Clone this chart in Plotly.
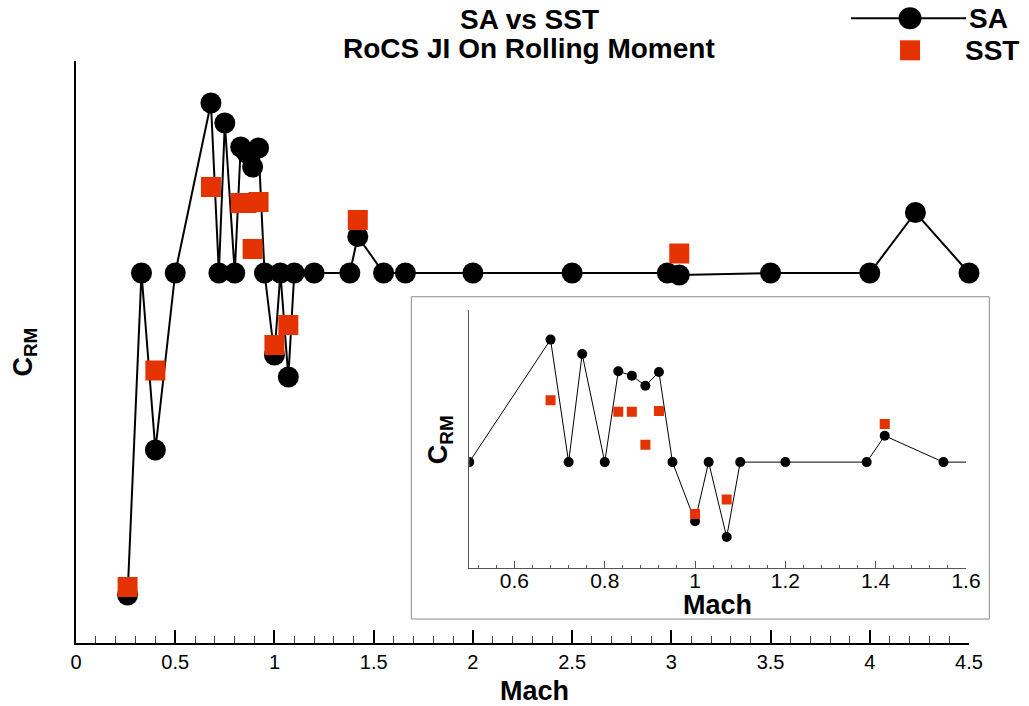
import plotly.graph_objects as go

# ---------------- data ----------------
sa_mach = [0.26, 0.33, 0.40, 0.50, 0.68, 0.72, 0.75, 0.80, 0.83, 0.86, 0.89, 0.92,
           0.95, 1.00, 1.03, 1.07, 1.10, 1.20, 1.38, 1.42, 1.55, 1.66, 2.00, 2.50,
           2.98, 3.04, 3.50, 4.00, 4.23, 4.50]
sa_crm = [-3.22, 0.00, -1.77, 0.00, 1.70, 0.00, 1.50, 0.00, 1.26, 1.20, 1.06, 1.25,
          0.00, -0.82, 0.00, -1.04, 0.00, 0.00, 0.00, 0.365, 0.00, 0.00, 0.00, 0.00,
          0.00, -0.02, 0.00, 0.00, 0.605, 0.00]

sst_mach = [0.26, 0.40, 0.68, 0.83, 0.86, 0.89, 0.92, 1.00, 1.07, 1.42, 3.04]
sst_crm = [-3.14, -0.975, 0.86, 0.70, 0.70, 0.24, 0.71, -0.72, -0.52, 0.53, 0.195]

main_xticks = [0, 0.5, 1, 1.5, 2, 2.5, 3, 3.5, 4, 4.5]
inset_xticks = [0.6, 0.8, 1.0, 1.2, 1.4, 1.6]
inset_xtext = ["0.6", "0.8", "1", "1.2", "1.4", "1.6"]

SA_COLOR = "black"
SST_COLOR = "#E43300"
FONT = "Liberation Sans, Arial, Helvetica, sans-serif"

# plot-area geometry helpers (pixels -> paper fractions)
L, R, T, B = 75.5, 969.0, 60.7, 643.3
W, H = R - L, B - T


def px(x):
    return (x - L) / W


def py(y):
    return (B - y) / H


fig = go.Figure()

# main traces
fig.add_trace(go.Scatter(x=sa_mach, y=sa_crm, mode="lines+markers", name="SA",
                         line=dict(color=SA_COLOR, width=2),
                         marker=dict(symbol="circle", size=21, color=SA_COLOR),
                         cliponaxis=False,
                         xaxis="x", yaxis="y", showlegend=False))
fig.add_trace(go.Scatter(x=sst_mach, y=sst_crm, mode="markers", name="SST",
                         marker=dict(symbol="square", size=20, color=SST_COLOR),
                         cliponaxis=False,
                         xaxis="x", yaxis="y", showlegend=False))

# inset traces
fig.add_trace(go.Scatter(x=sa_mach, y=sa_crm, mode="lines+markers", name="SA",
                         line=dict(color=SA_COLOR, width=1),
                         marker=dict(symbol="circle", size=10, color=SA_COLOR),
                         xaxis="x2", yaxis="y2", showlegend=False))
fig.add_trace(go.Scatter(x=sst_mach, y=sst_crm, mode="markers", name="SST",
                         marker=dict(symbol="square", size=10, color=SST_COLOR),
                         xaxis="x2", yaxis="y2", showlegend=False))

inset_x = [px(469), px(966)]
inset_y = [py(568.3), py(310)]

fig.update_layout(
    width=1029, height=706,
    margin=dict(l=L, r=1029 - R, t=T, b=706 - B),
    paper_bgcolor="white", plot_bgcolor="white",
    font=dict(family=FONT, color="black"),
    xaxis=dict(range=[0, 4.5], tickvals=main_xticks, ticks="inside", ticklen=13,
               tickwidth=1.5, tickcolor="black", showline=True, linecolor="black",
               linewidth=2, showgrid=False, zeroline=False,
               tickfont=dict(size=20, family=FONT),
               minor=dict(dtick=0.1, ticks="inside", ticklen=7, tickwidth=1,
                          tickcolor="#444", showgrid=False),
               domain=[0, 1]),
    yaxis=dict(range=[-3.70, 2.12], showline=True, linecolor="black", linewidth=2,
               showticklabels=False, ticks="", showgrid=False, zeroline=False,
               domain=[0, 1]),
    xaxis2=dict(range=[0.5, 1.6], tickvals=inset_xticks, ticktext=inset_xtext,
                ticks="inside", ticklen=7, tickwidth=1, tickcolor="#555",
                showline=True, linecolor="#555", linewidth=1, showgrid=False,
                zeroline=False, tickfont=dict(size=21, family=FONT),
                ticklabelstandoff=-6,
                minor=dict(dtick=0.04, ticks="inside", ticklen=3.5, tickwidth=1,
                           tickcolor="#555", showgrid=False),
                domain=inset_x, anchor="y2"),
    yaxis2=dict(range=[-1.47, 2.11], showline=True, linecolor="#555", linewidth=1,
                showticklabels=False, ticks="", showgrid=False, zeroline=False,
                domain=inset_y, anchor="x2"),
)

# inset frame
fig.add_shape(type="rect", xref="paper", yref="paper",
              x0=px(411), x1=px(989.3), y0=py(619.3), y1=py(296.7),
              line=dict(color="#8a8a8a", width=1), fillcolor="white", layer="below")

# legend (drawn manually to mimic the original)
fig.add_shape(type="line", xref="paper", yref="paper", x0=px(851), x1=px(966),
              y0=py(18), y1=py(18), line=dict(color="black", width=2))
fig.add_shape(type="circle", xref="paper", yref="paper", xsizemode="pixel",
              ysizemode="pixel", xanchor=px(910), yanchor=py(18),
              x0=-11.5, x1=11.5, y0=-11, y1=11, fillcolor="black",
              line=dict(color="black", width=0))
fig.add_shape(type="rect", xref="paper", yref="paper", xsizemode="pixel",
              ysizemode="pixel", xanchor=px(910), yanchor=py(50),
              x0=-10, x1=10, y0=-10, y1=10, fillcolor=SST_COLOR,
              line=dict(color=SST_COLOR, width=0))

ann = [
    dict(text="<b>SA vs SST</b>", x=px(529), y=py(19), size=28),
    dict(text="<b>RoCS JI On Rolling Moment</b>", x=px(529), y=py(48), size=28),
    dict(text="<b>Mach</b>", x=px(534), y=py(691), size=27),
    dict(text="<b>Mach</b>", x=px(717.5), y=py(605), size=27),
]
for a in ann:
    fig.add_annotation(text=a["text"], x=a["x"], y=a["y"], xref="paper", yref="paper",
                       showarrow=False, xanchor="center", yanchor="middle",
                       font=dict(size=a["size"], family=FONT, color="black"))

fig.add_annotation(text="<b>SA</b>", x=px(967), y=py(18), xref="paper",
                   yref="paper", showarrow=False, xanchor="left", yanchor="middle",
                   font=dict(size=28, family=FONT))
fig.add_annotation(text="<b>SST</b>", x=px(963), y=py(50), xref="paper",
                   yref="paper", showarrow=False, xanchor="left", yanchor="middle",
                   font=dict(size=28, family=FONT))

# y-axis titles
fig.add_annotation(text="<b>C<sub>RM</sub></b>", x=px(24), y=py(352),
                   xref="paper", yref="paper", showarrow=False, textangle=-90,
                   xanchor="center", yanchor="middle", font=dict(size=27, family=FONT))
fig.add_annotation(text="<b>C<sub>RM</sub></b>", x=px(440), y=py(440),
                   xref="paper", yref="paper", showarrow=False, textangle=-90,
                   xanchor="center", yanchor="middle", font=dict(size=27, family=FONT))

fig.write_html("out.html")
